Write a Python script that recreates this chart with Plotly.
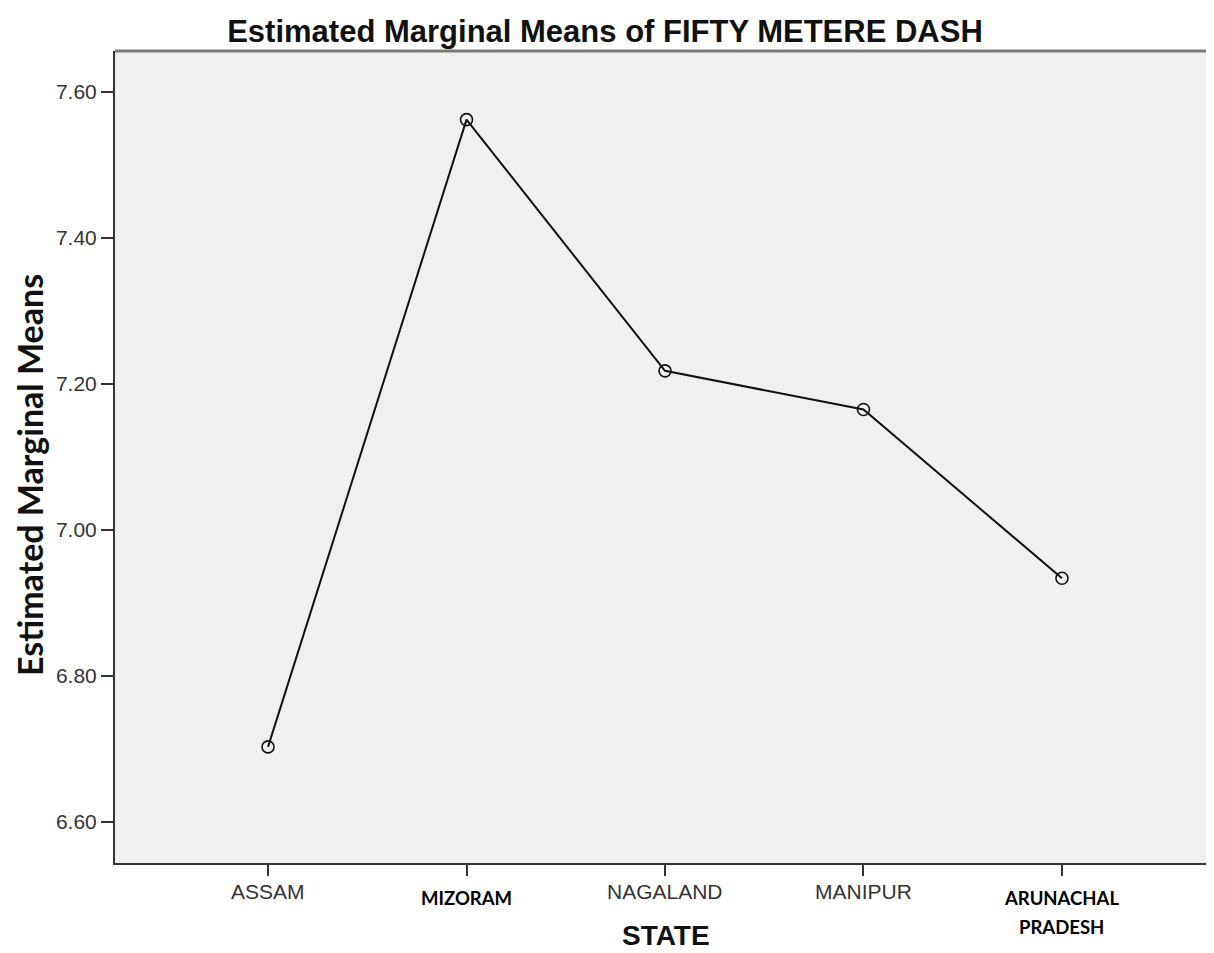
import plotly.graph_objects as go

states = ["ASSAM", "MIZORAM", "NAGALAND", "MANIPUR", "ARUNACHAL PRADESH"]
means = [6.703, 7.562, 7.218, 7.165, 6.934]
tick_vals = [6.60, 6.80, 7.00, 7.20, 7.40, 7.60]
tick_text = ["6.60", "6.80", "7.00", "7.20", "7.40", "7.60"]
label_bold = [False, True, False, False, True]
label_lines = [["ASSAM"], ["MIZORAM"], ["NAGALAND"], ["MANIPUR"], ["ARUNACHAL", "PRADESH"]]

xs = list(range(len(states)))

# the page body keeps an 8px margin; the figure fills the rest of the window
W, H = 1206, 945
ML, MT, MB = 107, 43, 90
PW = W - ML
PH = H - MT - MB

fig = go.Figure()
fig.add_trace(go.Scatter(
    x=xs, y=means, mode="lines+markers",
    line=dict(color="#111111", width=2),
    marker=dict(symbol="circle-open", size=12, color="#111111", line=dict(width=1.6)),
    showlegend=False, hoverinfo="x+y",
))

for i, (lines, b) in enumerate(zip(label_lines, label_bold)):
    if b:
        shifts = [-35] if len(lines) == 1 else [-34.5, -63.5]
        for ln, sh in zip(lines, shifts):
            fig.add_annotation(x=xs[i], y=0, xref="x", yref="paper", yanchor="middle",
                               yshift=sh, text="<b>" + ln + "</b>", showarrow=False,
                               font=dict(family="Lato, Open Sans, sans-serif", size=18.5, color="#000000"))
    else:
        fig.add_annotation(x=xs[i], y=0, xref="x", yref="paper", yanchor="middle", yshift=-28,
                           text=lines[0], showarrow=False,
                           font=dict(family="Liberation Sans, Arial, sans-serif", size=21, color="#333333"))

# axis titles
fig.add_annotation(x=(658 - ML) / PW, y=0, xref="paper", yref="paper", yanchor="middle", yshift=-72,
                   text="<b>STATE</b>", showarrow=False,
                   font=dict(family="Liberation Sans, Arial, sans-serif", size=28, color="#111111"))
fig.add_annotation(x=(21 - ML) / PW, y=1 - (467 - MT) / PH, xref="paper", yref="paper",
                   xanchor="center", yanchor="middle", textangle=-90,
                   text="<b>Estimated Marginal Means</b>", showarrow=False,
                   font=dict(family="Lato, Open Sans, sans-serif", size=34, color="#111111"))

fig.add_shape(type="line", xref="paper", yref="paper", x0=0, x1=1, y0=1, y1=1,
              line=dict(color="#7a7a7a", width=3))

fig.update_layout(
    width=W, height=H,
    margin=dict(l=ML, r=0, t=MT, b=MB),
    paper_bgcolor="white", plot_bgcolor="#f0f0f0",
    title=dict(text="<b>Estimated Marginal Means of FIFTY METERE DASH</b>",
               x=597 / W, xref="container", xanchor="center",
               y=1 - 23 / H, yref="container", yanchor="middle",
               font=dict(family="Liberation Sans, Arial, sans-serif", size=31, color="#111111")),
    xaxis=dict(range=[-0.771, 4.766], tickvals=xs, ticktext=[""] * len(xs),
               showgrid=False, zeroline=False, showline=True, linecolor="#333333", linewidth=2,
               ticks="outside", ticklen=11, tickwidth=2, tickcolor="#333333"),
    yaxis=dict(range=[6.544, 7.656], tickvals=tick_vals, ticktext=tick_text,
               showgrid=False, zeroline=False, showline=True, linecolor="#333333", linewidth=2,
               ticks="outside", ticklen=12, tickwidth=2, tickcolor="#333333",
               tickfont=dict(family="Liberation Sans, Arial, sans-serif", size=21, color="#333333")),
)

fig.write_html("out.html")
